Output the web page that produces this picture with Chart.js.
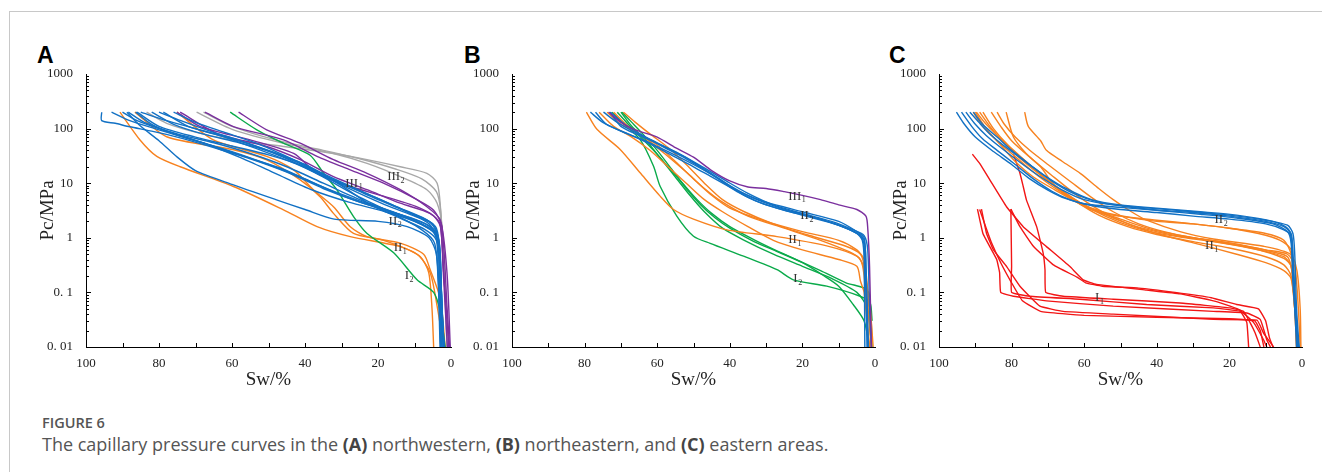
<!DOCTYPE html>
<html>
<head>
<meta charset="utf-8">
<script src="https://cdn.jsdelivr.net/npm/chart.js@4.4.0/dist/chart.umd.min.js"></script>
<style>
    body { margin: 0; background: #fff; width: 1322px; height: 472px; overflow: hidden; position: relative; font-family: "Open Sans", sans-serif; }
    .frame-top { position: absolute; left: 9px; top: 11px; right: 0; border-top: 1.5px solid #c8c8c8; }
    .frame-left { position: absolute; left: 9px; top: 11px; bottom: 0; border-left: 1.5px solid #c8c8c8; }
    canvas { position: absolute; }
    .letter { position: absolute; top: 44px; font-family: "Liberation Sans", Arial, sans-serif; font-weight: bold; font-size: 23px; line-height: 1; color: #000; }
    .fig { position: absolute; left: 42px; top: 416px; font-size: 14.5px; line-height: 1; font-weight: 600; color: #555; }
    .cap { position: absolute; left: 42px; top: 435px; font-size: 18px; line-height: 1; color: #555; }
    .cap b { font-weight: 700; color: #444; }
</style>
</head>
<body>
<div class="frame-top"></div>
<div class="frame-left"></div>

<div class="letter" style="left:37px">A</div>
<div class="letter" style="left:464px">B</div>
<div class="letter" style="left:889px">C</div>

<canvas id="chartA"></canvas>
<canvas id="chartB"></canvas>
<canvas id="chartC"></canvas>

<div class="fig">FIGURE 6</div>
<div class="cap">The capillary pressure curves in the <b>(A)</b> northwestern, <b>(B)</b> northeastern, and <b>(C)</b> eastern areas.</div>

<script>
// Axis ticks
const X_TICKS = [100, 80, 60, 40, 20, 0];
const Y_TICKS = [0.01, 0.1, 1, 10, 100, 1000];
const Y_TICK_LABELS = ['0. 01', '0. 1', '1', '10', '100', '1000'];

// Each curve is a list of [Sw %, Pc MPa] points

// Panel A - northwestern
const A_BLUE = [
    [[95.7,200],[95.7,140],[92,125],[88,108],[82,90],[75,70],[65,45],[55,28],[45,16],[35,8],[25,4.5],[15,2.8],[7,1.8],[4,1.2],[3,0.5],[2.5,0.05],[2,0.01]],
    [[88.8,200],[85,110],[80,60],[75,30],[70,17],[60,9.5],[48,5],[40,3.3],[32,2.2],[20,2],[12,1.6],[6,1],[4,0.5],[3,0.05],[2.5,0.01]],
    [[93,200],[88,140],[80,95],[70,60],[60,38],[50,22],[40,12],[30,6],[20,3.5],[10,2.2],[5,1.5],[3.5,1],[3,0.2],[2,0.01]],
    [[88.4,200],[84,130],[75,80],[65,55],[55,35],[45,20],[35,10],[25,5],[15,2.8],[7,1.6],[4,1.1],[3,0.3],[2.2,0.02],[2,0.01]],
    [[86.4,200],[82,120],[76,80],[66,50],[56,30],[46,18],[36,9],[26,5],[16,3],[8,1.8],[4,1.2],[3.3,0.5],[2.5,0.03],[2,0.01]],
    [[86,200],[80,110],[70,70],[60,48],[50,33],[40,20],[30,10],[20,5],[12,3],[6,2],[4,1.3],[3,0.6],[2.5,0.05],[1.8,0.01]],
    [[82,200],[76,120],[68,80],[58,55],[48,35],[38,18],[28,8],[18,4],[10,2.5],[5,1.8],[3.5,1],[2.8,0.2],[2,0.01]],
    [[78.8,200],[72,110],[62,70],[52,40],[42,22],[32,11],[22,6],[14,3.5],[7,2.2],[4,1.5],[3,0.5],[2.5,0.03],[1.8,0.01]],
    [[76,200],[70,130],[62,85],[52,50],[42,25],[32,12],[22,6],[12,3],[6,1.8],[4,1],[3,0.3],[2,0.01]],
    [[90,200],[86,140],[78,90],[68,55],[58,30],[48,15],[38,7.5],[28,4.5],[18,3],[10,2],[5,1.3],[3.6,0.8],[3,0.1],[2.4,0.01]],
    [[85,200],[78,140],[70,100],[60,65],[50,40],[40,22],[30,9],[22,4],[14,2.3],[7,1.4],[4,0.9],[3.5,0.2],[2.8,0.01]],
    [[80,200],[74,140],[66,90],[56,55],[46,30],[36,14],[26,6],[16,2.8],[8,1.4],[4.5,0.8],[3.5,0.15],[3,0.01]]
];
const A_PURPLE = [
    [[75.1,200],[68.7,109],[55,62],[43.1,35],[36.7,15.2],[27.6,8.7],[18.5,5.8],[9.3,3.7],[4.75,2.5],[2.9,1.6],[2,0.23],[0.6,0.01]],
    [[74.2,200],[64.2,82],[50.5,47],[41.3,27],[32.2,13.2],[23,7.6],[13.9,4.3],[5.7,2.8],[3,1.8],[2.2,0.3],[1,0.01]],
    [[67.4,200],[59.6,109],[45.9,62],[36.7,31],[27.6,17.5],[18.5,10],[9.3,5],[4.75,3.2],[2.5,1.6],[1.1,0.056],[0.4,0.01]],
    [[58.2,200],[50.5,95],[41.3,54],[32.2,27],[23,15.2],[13.9,7.6],[6.6,3.7],[2.9,2.1],[1.1,0.23],[0.2,0.01]]
];
const A_GREEN = [
    [[60.5,200],[53.2,95],[45.9,54],[38.6,32.5],[34.9,15.2],[31.3,7.6],[26.7,2.45],[23,1.2],[15.7,0.53],[9.3,0.17],[4.75,0.1],[2.9,0.043],[1.6,0.01]]
];
const A_GRAY = [
    [[83.4,200],[77.9,125],[68.7,82],[59.6,62],[45.9,47],[32.2,35],[23,27],[13.9,20],[6.6,15.2],[3.8,10],[2.9,3.7],[2,0.23],[0.6,0.01]],
    [[69.7,200],[59.6,95],[45.9,54],[32.2,35],[23,23],[13.9,13.2],[6.6,7.6],[3.8,4.3],[2.5,1.6],[1.1,0.01]],
    [[67.8,200],[60,110],[48,62],[35,40],[25,28],[15,18],[8,12],[4,7],[2.8,3],[2,0.3],[1,0.01]]
];
const A_ORANGE = [
    [[90.7,200],[85.2,62],[80.6,31],[74.2,20],[59.6,8.7],[45.9,3.25],[36.7,1.6],[27.6,1.05],[13.9,0.69],[8.4,0.45],[6.1,0.23],[5.2,0.05],[4.75,0.01]],
    [[86.6,200],[77.9,71],[59.6,41],[50.5,26.7],[41.3,11.5],[35.8,5.6],[32.2,2.8],[26.7,1.2],[18.5,0.9],[9.3,0.5],[5.7,0.23],[3.8,0.056],[2,0.01]],
    [[75.1,200],[65.1,62],[50.5,31],[43.1,17.5],[37.7,7.6],[32.2,3.7],[27.6,1.6],[23,1.05],[13.9,0.8],[7.5,0.5],[5.7,0.26],[2.9,0.075],[1.6,0.01]]
];

// Panel B - northeastern
const B_BLUE = [
    [[78.4,200],[75,130],[70,90],[65,65],[60,45],[55,30],[50,20],[45,13],[40,8.5],[35,6],[30,4.5],[20,3],[10,2],[5,1.3],[3,1],[2.5,0.3],[2,0.01]],
    [[77,200],[74,120],[68,80],[62,55],[56,35],[50,22],[44,13],[38,7],[32,4.5],[25,3.2],[15,2.2],[8,1.5],[4,1.1],[3,0.7],[2.5,0.1],[2.2,0.01]],
    [[74.8,200],[71,130],[66,85],[60,55],[54,35],[48,20],[42,11],[36,6],[30,4],[20,2.6],[10,1.7],[5,1.2],[3,0.9],[2.5,0.3],[1.8,0.01]],
    [[72.9,200],[69,120],[64,75],[58,45],[52,28],[46,16],[40,9],[34,5.5],[26,3.5],[18,2.5],[10,1.7],[5,1.2],[3.5,0.9],[3,0.4],[2.8,0.01]],
    [[73,200],[70,110],[65,75],[59,50],[53,32],[47,19],[41,11],[35,6.5],[28,4],[20,2.8],[12,2],[6,1.4],[3,1.1],[2,0.6],[1.5,0.05],[1,0.01]]
];
const B_PURPLE = [
    [[73.4,200],[70,130],[66,95],[60,70],[55,45],[50,30],[45,17],[40,11],[35,8.5],[30,8],[25,7],[20,6],[15,5],[10,4],[5,3.3],[2.5,2.5],[2,1.5],[1.5,0.3],[1,0.01]]
];
const B_GREEN = [
    [[72.5,200],[69.7,130],[64.7,63],[61,20.5],[59.2,8.8],[54.6,2.5],[50,1.07],[45.4,0.79],[36.2,0.46],[27,0.26],[22.5,0.17],[13.3,0.13],[4.1,0.085],[1.4,0.065],[0.8,0.03]],
    [[69.7,200],[67,130],[64,80],[60,40],[56,18],[52,8],[48,4],[44,2.3],[40,1.5],[34,0.9],[28,0.6],[20,0.35],[14,0.2],[10,0.13],[6,0.06],[3,0.03],[1.5,0.01]],
    [[71,200],[68,120],[65,75],[61,40],[57,20],[53,10],[49,5],[45,2.8],[40,1.6],[33,0.9],[25,0.5],[15,0.25],[8,0.15],[3,0.12],[1.5,0.09],[0.8,0.01]],
    [[70,200],[67,110],[63,60],[59,28],[55,13],[51,6],[47,3],[42,1.5],[36,0.9],[28,0.5],[20,0.3],[12,0.18],[5,0.1],[2,0.05],[1,0.01]]
];
const B_ORANGE = [
    [[79.5,200],[76.6,97],[70.2,41.6],[64.7,15.5],[59.2,5.8],[55.5,3.3],[50,2.2],[40.8,1.4],[27,1.05],[13.3,0.71],[5,0.46],[3.2,0.3],[1.4,0.056],[0.5,0.01]],
    [[73.8,200],[70,120],[65,80],[60,50],[55,25],[50,12],[45,6],[40,3.5],[30,2],[20,1.3],[10,0.9],[5,0.6],[3,0.4],[2,0.1],[1,0.01]],
    [[69.3,200],[66,130],[62,80],[57,45],[52,22],[47,10],[42,5],[36,3],[28,1.8],[18,1.1],[8,0.7],[4,0.5],[3,0.3],[2,0.05],[1,0.01]],
    [[72,200],[68,110],[63,65],[58,35],[52,16],[47,8],[42,4.5],[35,2.5],[25,1.5],[15,0.9],[7,0.55],[4,0.4],[3,0.2],[2,0.02],[1.5,0.01]],
    [[76,200],[72,110],[67,70],[62,40],[57,20],[52,10],[47,5],[42,3],[35,1.6],[28,0.9],[20,0.6],[10,0.4],[5,0.3],[4,0.16],[3,0.1],[2,0.02],[1.5,0.01]]
];

// Panel C - eastern
const C_BLUE = [
    [[95.2,200],[93,120],[90,70],[85,38],[80,22],[75,12],[70,7.5],[65,5.2],[60,4.2],[50,3.6],[40,3.2],[30,2.9],[20,2.5],[10,2],[5,1.6],[3,1.2],[2.5,0.5],[2,0.08],[1,0.01]],
    [[93.8,200],[91,110],[88,65],[84,40],[79,22],[74,12],[69,7.2],[64,5],[58,3.9],[50,3.3],[40,2.9],[30,2.5],[20,2.2],[10,1.8],[5,1.4],[3,1.1],[2.5,0.4],[1.5,0.02],[0.8,0.01]],
    [[92.6,200],[90,120],[87,75],[83,45],[78,25],[72,13],[66,7.5],[60,5],[52,4],[42,3.5],[30,3],[20,2.6],[10,2.1],[4,1.7],[2.5,1.2],[2,0.5],[1.5,0.05],[0.8,0.01]],
    [[91.5,200],[89,130],[86,80],[82,48],[77,27],[71,14],[65,8],[58,5],[50,4],[40,3.5],[28,3],[18,2.6],[8,2],[4,1.5],[3,1],[2.5,0.3],[1.5,0.01]],
    [[90.5,200],[88,120],[84,70],[80,40],[75,22],[69,11],[63,6.5],[56,4.5],[48,3.7],[38,3.1],[28,2.7],[18,2.3],[8,1.8],[4,1.3],[3,0.8],[2.5,0.15],[1.2,0.01]]
];
const C_ORANGE = [
    [[90.6,200],[88,110],[84,60],[80,35],[75,18],[70,10],[65,6],[60,3.8],[55,2.8],[50,2.5],[40,2],[30,1.8],[20,1.5],[10,1.2],[5,0.9],[3,0.5],[2,0.1],[1,0.01]],
    [[89.7,200],[87,120],[83,65],[78,30],[72,14],[66,7],[60,4],[52,2.3],[44,1.5],[35,1.1],[25,0.9],[15,0.7],[8,0.55],[4,0.45],[2.5,0.2],[1.5,0.01]],
    [[88.8,200],[86,110],[82,55],[77,28],[71,13],[65,6.5],[58,3.3],[50,1.9],[42,1.3],[32,1],[22,0.8],[12,0.6],[5,0.45],[3,0.3],[2,0.05],[1,0.01]],
    [[87.9,200],[85,100],[81,50],[76,25],[70,11],[63,5],[56,2.6],[48,1.6],[40,1.15],[30,0.85],[20,0.65],[10,0.45],[5,0.32],[3,0.2],[2,0.05],[1.5,0.01]],
    [[85.6,200],[83,110],[80,60],[75,30],[69,14],[62,6],[55,3],[47,1.7],[38,1.1],[28,0.75],[18,0.5],[10,0.35],[5,0.25],[3,0.18],[2,0.05],[1,0.01]],
    [[81.5,200],[79.5,70],[76,35],[72,20],[68.7,10],[64,5.5],[59.6,3.7],[50,2.2],[41,1.4],[28,0.95],[14,0.65],[5,0.42],[3,0.3],[2,0.08],[1,0.01]],
    [[76.4,200],[75.4,110],[72,60],[70.4,40],[66,25],[61,15],[56,8],[52,5],[47,3],[42.8,2.1],[33.6,1.3],[24.4,0.95],[10.6,0.7],[3.2,0.5],[1.4,0.25],[0.5,0.05],[0.3,0.01]],
    [[90,200],[87,100],[83,50],[79,25],[74,13],[68,7.5],[62,4.5],[55,3],[48,2.4],[40,2.1],[30,1.8],[20,1.5],[12,1.2],[6,0.9],[3,0.6],[2,0.1],[1.2,0.01]],
    [[84,200],[82,120],[79,70],[75,40],[70,22],[64,11],[58,5.5],[52,3],[45,1.8],[38,1.3],[30,1],[20,0.8],[10,0.6],[4,0.5],[2,0.3],[1,0.05],[0.5,0.01]]
];
const C_RED = [
    [[90.8,34],[88.8,23],[86,11.5],[81.4,3.7],[76.8,1.6],[70.4,0.69],[64,0.3],[60.3,0.17],[56.6,0.14],[42.8,0.11],[33.6,0.094],[24.4,0.07],[19.8,0.056],[17,0.047],[13.3,0.028],[10.6,0.0136],[9.7,0.01]],
    [[79.5,34],[77.7,15.2],[76.8,8.7],[75.9,4.9],[73.1,1.6],[71.3,0.52],[70.8,0.26],[70.6,0.1],[65.8,0.085],[52,0.075],[33.6,0.064],[19.8,0.052],[16.1,0.045],[14.3,0.028],[12.9,0.018],[11.5,0.01]],
    [[80.2,3.35],[80.1,1],[80,0.3],[80,0.1],[75,0.085],[61.2,0.075],[42.8,0.06],[24.4,0.052],[17,0.045],[15.2,0.028],[14.7,0.01]],
    [[80.2,3.35],[77.7,1.6],[74,0.7],[68.5,0.32],[62,0.19],[59.6,0.15],[55,0.13],[45,0.12],[35,0.1],[25,0.08],[18,0.06],[12,0.05],[10,0.03],[9,0.015],[8,0.01]],
    [[89.4,3.35],[87.9,1.2],[86,0.69],[84.1,0.4],[83.3,0.23],[83,0.1],[79.5,0.085],[70.4,0.07],[52,0.056],[24.4,0.045],[15.2,0.042],[11.5,0.032],[9.7,0.0136],[8.7,0.01]],
    [[88.3,3.35],[86.9,1.2],[85,0.6],[81.4,0.3],[77.7,0.13],[72.2,0.056],[65.8,0.045],[52,0.04],[24.4,0.032],[12.4,0.031],[10.6,0.018],[7.8,0.01]],
    [[88.8,3.3],[87,1.5],[85.5,0.8],[83,0.35],[80,0.15],[77,0.07],[72,0.045],[60,0.038],[40,0.035],[20,0.033],[13,0.03],[11.5,0.02],[10.5,0.01]]
];

// Rock type labels: [name, subscript, Sw, Pc]
const A_LABELS = [['III','2',17.5,13],['III','1',29,10],['II','2',17.1,2.0],['II','1',15.7,0.65],['I','2',12.7,0.2]];
const B_LABELS = [['III','1',23.9,5.8],['II','2',20.6,2.57],['II','1',23.9,0.91],['I','2',22.5,0.177]];
const C_LABELS = [['II','2',24.1,2.13],['II','1',26.7,0.71],['I','1',57,0.079]];

const COLORS = {
    blue: '#1271c4',
    orange: '#f7821f',
    purple: '#7a2f9e',
    gray: '#a8a8a8',
    green: '#0aaa4a',
    red: '#f21515'
};

const SERIF = '"Liberation Serif", "Times New Roman", serif';
const PLOT_TOP = 74;
const PLOT_BOTTOM = 347;
const CANVAS_TOP = 40;
const CANVAS_H = 360;
const Y_AXIS_W = 66;
const RIGHT_PAD = 14;

function lineSets(curves, color, tension) {
    return curves.map(c => ({
        data: c.map(p => ({ x: p[0], y: p[1] })),
        borderColor: color,
        borderWidth: 1.4,
        pointRadius: 0,
        tension: tension,
        fill: false
    }));
}

// Inner ticks, axis titles and curve labels
const decor = {
    id: 'decor',
    afterDraw(chart, args, opts) {
        const { ctx, chartArea: a, scales: { x, y } } = chart;
        ctx.save();
        ctx.strokeStyle = '#000';
        ctx.lineWidth = 1;
        ctx.beginPath();
        for (let d = -2; d < 3; d++) {
            for (let k = 1; k < 10; k++) {
                const py = Math.round(y.getPixelForValue(k * Math.pow(10, d))) + 0.5;
                ctx.moveTo(a.left, py);
                ctx.lineTo(a.left + (k === 1 ? 5 : 3), py);
            }
        }
        for (let v = 10; v < 100; v += 10) {
            const px = Math.round(x.getPixelForValue(v)) + 0.5;
            ctx.moveTo(px, a.bottom);
            ctx.lineTo(px, a.bottom - 4);
        }
        ctx.stroke();

        ctx.fillStyle = '#222';
        ctx.font = '19px ' + SERIF;
        ctx.textAlign = 'center';
        ctx.textBaseline = 'alphabetic';
        ctx.fillText('Sw/%', (a.left + a.right) / 2, a.bottom + 38);

        ctx.translate(a.left - 38, (a.top + a.bottom) / 2);
        ctx.rotate(-Math.PI / 2);
        ctx.textBaseline = 'middle';
        ctx.fillText('Pc/MPa', 0, 0);
        ctx.setTransform(1, 0, 0, 1, 0, 0);

        ctx.fillStyle = '#333';
        ctx.textAlign = 'left';
        ctx.textBaseline = 'middle';
        opts.labels.forEach(l => {
            const px = x.getPixelForValue(l[2]);
            const py = y.getPixelForValue(l[3]);
            ctx.font = '13px ' + SERIF;
            ctx.fillText(l[0], px, py);
            const w = ctx.measureText(l[0]).width;
            ctx.font = '8px ' + SERIF;
            ctx.fillText(l[1], px + w + 0.5, py + 4);
        });
        ctx.restore();
    }
};

function makePanel(id, plotLeft, plotRight, datasets, labels) {
    const canvas = document.getElementById(id);
    const w = plotRight - plotLeft + Y_AXIS_W + RIGHT_PAD;
    canvas.width = w;
    canvas.height = CANVAS_H;
    canvas.style.left = (plotLeft - Y_AXIS_W) + 'px';
    canvas.style.top = CANVAS_TOP + 'px';

    new Chart(canvas.getContext('2d'), {
        type: 'line',
        data: { datasets: datasets },
        options: {
            responsive: false,
            animation: false,
            events: [],
            devicePixelRatio: 1,
            layout: { padding: { top: PLOT_TOP - CANVAS_TOP, right: RIGHT_PAD, left: 0, bottom: 0 } },
            plugins: {
                legend: { display: false },
                tooltip: { enabled: false },
                decor: { labels: labels }
            },
            scales: {
                x: {
                    type: 'linear',
                    reverse: true,
                    min: 0,
                    max: 100,
                    afterBuildTicks: s => { s.ticks = X_TICKS.map(v => ({ value: v })); },
                    afterFit: s => { s.height = CANVAS_H - (PLOT_BOTTOM - CANVAS_TOP); },
                    ticks: { font: { family: SERIF, size: 13 }, color: '#222', padding: 1, maxRotation: 0, autoSkip: false },
                    grid: { display: false },
                    border: { display: true, color: '#000', width: 1 }
                },
                y: {
                    type: 'logarithmic',
                    min: 0.01,
                    max: 1000,
                    afterBuildTicks: s => { s.ticks = Y_TICKS.map(v => ({ value: v })); },
                    afterFit: s => { s.width = Y_AXIS_W; },
                    ticks: {
                        font: { family: SERIF, size: 13 },
                        color: '#222',
                        padding: 5,
                        autoSkip: false,
                        callback: v => Y_TICK_LABELS[Y_TICKS.indexOf(v)]
                    },
                    grid: { display: false },
                    border: { display: true, color: '#000', width: 1 }
                }
            }
        },
        plugins: [decor]
    });
}

makePanel('chartA', 86, 451, [
    ...lineSets(A_BLUE, COLORS.blue, 0.25),
    ...lineSets(A_PURPLE, COLORS.purple, 0.25),
    ...lineSets(A_GREEN, COLORS.green, 0.25),
    ...lineSets(A_GRAY, COLORS.gray, 0.25),
    ...lineSets(A_ORANGE, COLORS.orange, 0.25)
], A_LABELS);

makePanel('chartB', 512, 875, [
    ...lineSets(B_PURPLE, COLORS.purple, 0.25),
    ...lineSets(B_BLUE, COLORS.blue, 0.25),
    ...lineSets(B_ORANGE, COLORS.orange, 0.25),
    ...lineSets(B_GREEN, COLORS.green, 0.25)
], B_LABELS);

makePanel('chartC', 939, 1302, [
    ...lineSets(C_BLUE, COLORS.blue, 0.25),
    ...lineSets(C_ORANGE, COLORS.orange, 0.25),
    ...lineSets(C_RED, COLORS.red, 0.1)
], C_LABELS);
</script>
</body>
</html>
